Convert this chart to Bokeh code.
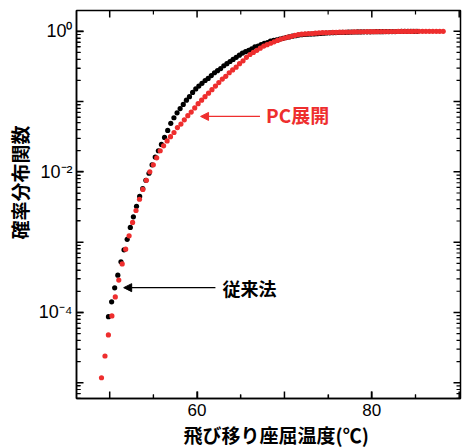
import math
import numpy as np
from bokeh.plotting import figure
from bokeh.models import (FixedTicker, CustomJSTickFormatter, Arrow, NormalHead, Label,
                          Range1d, Title)
from bokeh.embed import file_html
from bokeh.resources import INLINE

# ---- data ----
# temperatures (deg C) of each plotted point
red_temp = [49.06, 49.46, 49.85, 50.25, 50.64, 51.04, 51.43, 51.83, 52.22, 52.62,
            53.01, 53.41, 53.80, 54.20, 54.59, 54.99, 55.38, 55.78, 56.17, 56.57,
            56.96, 57.36, 57.75, 58.15, 58.54, 58.94, 59.33, 59.73, 60.12, 60.52,
            60.91, 61.31, 61.70, 62.10, 62.49, 62.89, 63.28, 63.68, 64.07, 64.47,
            64.86, 65.26, 65.65, 66.05, 66.44, 66.84, 67.23, 67.63, 68.02, 68.42,
            68.81, 69.21, 69.60, 70.00, 70.39, 70.79, 71.18, 71.58, 71.97, 72.37,
            72.76, 73.16, 73.55, 73.95, 74.34, 74.74, 75.13, 75.53, 75.92, 76.32,
            76.71, 77.11, 77.50, 77.90, 78.29, 78.69, 79.08, 79.48, 79.87, 80.27,
            80.66, 81.06, 81.45, 81.85, 82.24, 82.64, 83.03, 83.43, 83.82, 84.22,
            84.61, 85.01, 85.40, 85.80, 86.19, 86.59, 86.98, 87.38, 87.77, 88.17]
# log10 of the probability distribution function (PC expansion)
red_log10_p = [-4.93, -4.62, -4.32, -4.05, -3.78, -3.54, -3.31, -3.10, -2.91, -2.72,
               -2.55, -2.39, -2.25, -2.12, -2.00, -1.90, -1.80, -1.70, -1.63, -1.56,
               -1.50, -1.44, -1.37, -1.32, -1.26, -1.20, -1.15, -1.09, -1.03, -0.98,
               -0.93, -0.88, -0.83, -0.78, -0.73, -0.68, -0.64, -0.59, -0.55, -0.51,
               -0.46, -0.42, -0.37, -0.33, -0.30, -0.27, -0.24, -0.21, -0.19, -0.17,
               -0.15, -0.13, -0.11, -0.096, -0.083, -0.072, -0.059, -0.046, -0.041, -0.037,
               -0.032, -0.031, -0.027, -0.023, -0.020, -0.018, -0.017, -0.015, -0.014, -0.013,
               -0.012, -0.011, -0.010, -0.009, -0.008, -0.007, -0.0065, -0.006, -0.0055, -0.005,
               -0.0045, -0.004, -0.0036, -0.0032, -0.0028, -0.0025, -0.0022, -0.0019, -0.0016, -0.0014,
               -0.0012, -0.001, -0.0008, -0.0007, -0.0006, -0.0005, -0.0004, -0.0003, -0.0002, -0.0001]

black_temp = [49.86, 50.22, 50.57, 50.93, 51.29, 51.64, 52.00, 52.36, 52.71, 53.07,
              53.43, 53.78, 54.14, 54.50, 54.85, 55.21, 55.57, 55.92, 56.28, 56.64,
              56.99, 57.35, 57.71, 58.06, 58.42, 58.78, 59.13, 59.49, 59.85, 60.20,
              60.56, 60.92, 61.27, 61.63, 61.99, 62.34, 62.70, 63.06, 63.41, 63.77,
              64.12, 64.48, 64.84, 65.19, 65.55, 65.91, 66.26, 66.62, 66.98, 67.33,
              67.69, 68.05, 68.40, 68.76, 69.12, 69.47, 69.83, 70.19, 70.54, 70.90,
              71.26, 71.61, 71.97, 72.33, 72.68, 73.04, 73.40, 73.75, 74.11, 74.47,
              74.82, 75.18, 75.54, 75.89, 76.25, 76.61, 76.96, 77.32, 77.68, 78.03,
              78.39, 78.75, 79.10, 79.46, 79.82, 80.17, 80.53, 80.89, 81.24, 81.60,
              81.96, 82.31, 82.67, 83.03, 83.38, 83.74, 84.10, 84.45, 84.81, 85.17]
# log10 of the probability distribution function (conventional method)
black_log10_p = [-4.06, -3.85, -3.65, -3.47, -3.28, -3.11, -2.96, -2.79, -2.64, -2.49,
                 -2.35, -2.24, -2.12, -2.02, -1.90, -1.79, -1.70, -1.61, -1.51, -1.41,
                 -1.31, -1.23, -1.16, -1.10, -1.04, -0.98, -0.93, -0.87, -0.82, -0.78,
                 -0.74, -0.70, -0.67, -0.63, -0.59, -0.56, -0.53, -0.49, -0.46, -0.43,
                 -0.40, -0.37, -0.34, -0.31, -0.29, -0.27, -0.25, -0.22, -0.21, -0.19,
                 -0.17, -0.16, -0.14, -0.13, -0.12, -0.11, -0.10, -0.089, -0.080, -0.070,
                 -0.062, -0.054, -0.048, -0.045, -0.042, -0.039, -0.037, -0.034, -0.031, -0.028,
                 -0.024, -0.021, -0.020, -0.018, -0.017, -0.015, -0.014, -0.013, -0.011, -0.010,
                 -0.009, -0.0085, -0.008, -0.0075, -0.007, -0.0065, -0.006, -0.0055, -0.005, -0.0045,
                 -0.004, -0.0036, -0.0032, -0.0028, -0.0024, -0.002, -0.0017, -0.0014, -0.0011, -0.0008]

x_labelled_ticks = [60, 80]
x_major_ticks = [50, 60, 70, 80, 90]
x_minor_ticks = [55, 65, 75, 85]
y_labelled_decades = [0, -2, -4]
y_decades = [-5, -4, -3, -2, -1, 0]

series_names = ["従来法", "PC展開"]
x_title = "飛び移り座屈温度(℃)"
y_title = "確率分布関数"

RED = "#ee2e2e"
BLACK = "#000000"

red_p = np.power(10.0, np.array(red_log10_p))
black_p = np.power(10.0, np.array(black_log10_p))

X0, X1 = 46.2, 90.15
LY0, LY1 = -5.225, 0.296
Y0, Y1 = 10 ** LY0, 10 ** LY1
FRAME_W, FRAME_H = 384, 392

p = figure(width=467, height=447, output_backend="svg", toolbar_location=None,
           y_axis_type="log", x_range=Range1d(X0, X1), y_range=Range1d(Y0, Y1),
           min_border_left=76, min_border_right=7, min_border_top=10, min_border_bottom=45)
p.background_fill_color = "white"
p.border_fill_color = "white"
p.outline_line_color = BLACK
p.outline_line_width = 1.5
p.xgrid.visible = False
p.ygrid.visible = False


def style_axis(ax):
    ax.axis_line_color = BLACK
    ax.axis_line_width = 1.5
    ax.major_tick_line_color = BLACK
    ax.minor_tick_line_color = BLACK
    ax.major_tick_line_width = 1.5
    ax.minor_tick_line_width = 1.2
    ax.major_tick_in = 7
    ax.major_tick_out = 0
    ax.minor_tick_in = 4
    ax.minor_tick_out = 0


xa = p.xaxis[0]
xa.ticker = FixedTicker(ticks=x_labelled_ticks, minor_ticks=x_minor_ticks)
style_axis(xa)
xa.major_label_text_font = "Liberation Sans"
xa.major_label_text_font_size = "17px"
xa.major_label_text_color = BLACK
xa.major_label_standoff = 5

y_major = [10.0 ** e for e in y_decades]
y_minor = [k * 10.0 ** e for e in [-6] + y_decades for k in range(2, 10)]
y_minor = [v for v in y_minor if Y0 < v < Y1]

ya = p.yaxis[0]
ya.ticker = FixedTicker(ticks=[10.0 ** e for e in y_labelled_decades], minor_ticks=y_minor)
ya.formatter = CustomJSTickFormatter(code="""
    const e = Math.round(Math.log10(tick));
    const sup = {"0":"\u2070","1":"\u00b9","2":"\u00b2","3":"\u00b3","4":"\u2074",
                 "5":"\u2075","6":"\u2076","-":"\u207b"};
    return "10" + String(e).split("").map(c => sup[c]).join("");
""")
style_axis(ya)
ya.major_label_text_font = "Liberation Sans"
ya.major_label_text_font_size = "18px"
ya.major_label_text_color = BLACK
ya.major_label_standoff = 4

# axis titles (as titles so they can sit off-centre like the reference)
p.add_layout(Title(text=x_title, align="left", offset=107, standoff=0,
                   text_font="Noto Sans CJK JP", text_font_style="bold",
                   text_font_size="19px", text_color=BLACK), "below")
p.add_layout(Title(text=y_title, align="left", offset=159, standoff=6,
                   text_font="Noto Sans CJK JP", text_font_style="bold",
                   text_font_size="19px", text_color=BLACK), "left")

# inward ticks on all four sides, as short segments (lengths in px converted to data)
dx_major = 7 * (X1 - X0) / FRAME_W
dx_minor = 4 * (X1 - X0) / FRAME_W
fy_major = 10 ** (7 * (LY1 - LY0) / FRAME_H)
fy_minor = 10 ** (4 * (LY1 - LY0) / FRAME_H)

for vals, dx, w in ((y_major, dx_major, 1.5), (y_minor, dx_minor, 1.2)):
    n = len(vals)
    p.segment([X0] * n, vals, [X0 + dx] * n, vals, line_color=BLACK, line_width=w)
    p.segment([X1] * n, vals, [X1 - dx] * n, vals, line_color=BLACK, line_width=w)
for vals, fy, w in ((x_major_ticks, fy_major, 1.5), (x_minor_ticks, fy_minor, 1.2)):
    n = len(vals)
    p.segment(vals, [Y0] * n, vals, [Y0 * fy] * n, line_color=BLACK, line_width=w)
    p.segment(vals, [Y1] * n, vals, [Y1 / fy] * n, line_color=BLACK, line_width=w)

# data
p.scatter(black_temp, black_p, size=5.2, fill_color=BLACK, line_color=None)
p.scatter(red_temp, red_p, size=5.2, fill_color=RED, line_color=None)

# annotations
p.add_layout(Arrow(end=NormalHead(size=8, fill_color=RED, line_color=RED),
                   x_start=67.2, y_start=0.0615, x_end=60.4, y_end=0.0615,
                   line_color=RED, line_width=1.3))
p.add_layout(Label(x=67.9, y=0.0656, text=series_names[1], text_color=RED,
                   text_font="Noto Sans CJK JP", text_font_style="bold",
                   text_font_size="19px", text_baseline="middle"))
p.add_layout(Arrow(end=NormalHead(size=8, fill_color=BLACK, line_color=BLACK),
                   x_start=62.1, y_start=2.25e-4, x_end=51.6, y_end=2.25e-4,
                   line_color=BLACK, line_width=1.3))
p.add_layout(Label(x=62.9, y=2.2e-4, text=series_names[0], text_color=BLACK,
                   text_font="Noto Sans CJK JP", text_font_style="bold",
                   text_font_size="18px", text_baseline="middle"))

open("out.html", "w", encoding="utf-8").write(file_html(p, INLINE))
